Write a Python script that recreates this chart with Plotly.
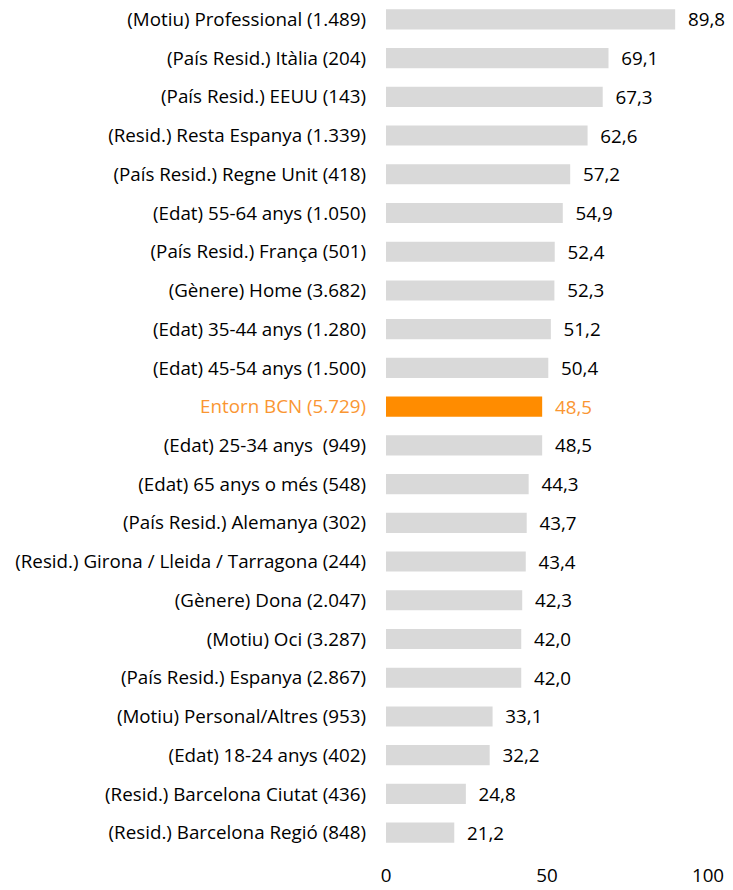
import plotly.graph_objects as go

# === DADES ===
categories = [
    "(Motiu) Professional (1.489)",
    "(País Resid.) Itàlia (204)",
    "(País Resid.) EEUU (143)",
    "(Resid.) Resta Espanya (1.339)",
    "(País Resid.) Regne Unit (418)",
    "(Edat) 55-64 anys (1.050)",
    "(País Resid.) França (501)",
    "(Gènere) Home (3.682)",
    "(Edat) 35-44 anys (1.280)",
    "(Edat) 45-54 anys (1.500)",
    "Entorn BCN (5.729)",
    "(Edat) 25-34 anys\u00a0 (949)",
    "(Edat) 65 anys o més (548)",
    "(País Resid.) Alemanya (302)",
    "(Resid.) Girona / Lleida / Tarragona (244)",
    "(Gènere) Dona (2.047)",
    "(Motiu) Oci (3.287)",
    "(País Resid.) Espanya (2.867)",
    "(Motiu) Personal/Altres (953)",
    "(Edat) 18-24 anys (402)",
    "(Resid.) Barcelona Ciutat (436)",
    "(Resid.) Barcelona Regió (848)",
]
values = [89.8, 69.1, 67.3, 62.6, 57.2, 54.9, 52.4, 52.3, 51.2, 50.4, 48.5,
          48.5, 44.3, 43.7, 43.4, 42.3, 42.0, 42.0, 33.1, 32.2, 24.8, 21.2]
highlight = "Entorn BCN (5.729)"
x_ticks = [0, 50, 100]

# === COLORS ===
gray = "#d9d9d9"
orange = "#ff8c00"
orange_txt = "#fa9632"
text_col = "#000000"
FONT = "Open Sans"
FS = 18.8

bar_colors = [orange if c == highlight else gray for c in categories]
val_colors = [orange_txt if c == highlight else text_col for c in categories]
val_text = ["\u00a0\u00a0" + f"{v:.1f}".replace(".", ",") for v in values]
tick_text = [f"<span style='color:{orange_txt}'>{c}</span>" if c == highlight else c
             for c in categories]

fig = go.Figure()
fig.add_trace(go.Bar(
    y=categories,
    x=values,
    orientation="h",
    marker=dict(color=bar_colors, line=dict(width=0)),
    text=val_text,
    textposition="outside",
    constraintext="none",
    textfont=dict(color=val_colors, size=FS, family=FONT),
    cliponaxis=False,
    hoverinfo="skip",
))

fig.update_layout(
    width=733,
    height=890,
    margin=dict(l=386, r=25, t=0, b=38, autoexpand=False),
    plot_bgcolor="white",
    paper_bgcolor="white",
    bargap=0.48,
    showlegend=False,
    font=dict(family=FONT, size=FS, color=text_col),
    xaxis=dict(
        range=[0, 100],
        tickvals=x_ticks,
        showgrid=False,
        zeroline=False,
        showline=False,
        ticks="",
        ticklabelstandoff=10,
        tickfont=dict(size=FS, color=text_col),
    ),
    yaxis=dict(
        autorange="reversed",
        tickvals=categories,
        ticktext=tick_text,
        showgrid=False,
        showline=False,
        ticks="",
        ticklabelstandoff=19,
        tickfont=dict(size=FS, color=text_col),
    ),
)

fig.write_html("out.html", config={"displayModeBar": False},
               post_script="document.body.style.margin='0px';")
